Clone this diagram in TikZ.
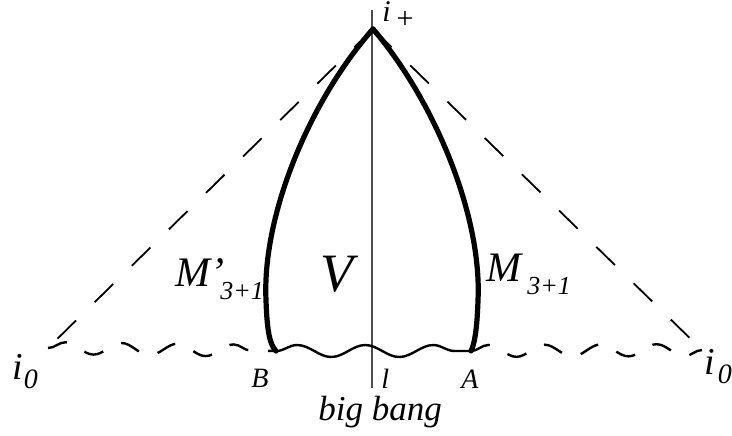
\documentclass[tikz,border=0pt]{standalone}
\usepackage{fontspec}
\setmainfont{Liberation Serif}
\usetikzlibrary{positioning,decorations.pathmorphing}

\begin{document}
\begin{tikzpicture}[
    x=0.5pt, y=-0.5pt,
    boundary/.style={line width=2.6pt, line cap=round},
    cone/.style={line width=0.9pt, dash pattern=on 13pt off 13pt},
    axis/.style={line width=0.6pt, black!70},
    bang/.style={line width=1.2pt, decorate, decoration={snake, segment length=34pt, amplitude=3pt}},
    dashbang/.style={line width=1.2pt, decorate, decoration={snake, segment length=28pt, amplitude=3pt},
        dash pattern=on 10pt off 10pt},
    lbl/.style={inner sep=0pt, anchor=base west, font=\itshape}
]
    \useasboundingbox (0,0) rectangle (732,435);

    % points of the diagram
    \coordinate (iplus) at (373,29);
    \coordinate (ileft) at (48,348);
    \coordinate (iright) at (702,350);
    \coordinate (Bpt) at (276,351);
    \coordinate (Apt) at (471,351);
    \coordinate (ltop) at (372,10);
    \coordinate (lbot) at (372,388);

    % light cone and axis
    \draw[cone] (iplus) -- (ileft);
    \draw[cone] (iplus) -- (iright);
    \draw[axis] (ltop) -- (lbot);

    % big bang surface
    \draw[dashbang] (ileft) -- (Bpt);
    \draw[bang] (Bpt) -- (Apt);
    \draw[dashbang] (Apt) -- (iright);

    % boundaries M and M'
    \draw[boundary] (iplus) .. controls (310,100) and (262,215) .. (266,300)
        .. controls (267,332) and (270,345) .. (Bpt);
    \draw[boundary] (iplus) .. controls (434,100) and (482,215) .. (478,300)
        .. controls (477,332) and (474,345) .. (Apt);

    % labels
    \node[lbl, font=\itshape\fontsize{15}{15}\selectfont] (iplab) at (382,21)
        {i\hspace{3pt}\raisebox{-3.5pt}{\upshape +}};
    \node[lbl, font=\itshape\fontsize{19}{19}\selectfont] (i0left) at (12,379)
        {i\hspace{0.5pt}\raisebox{-4.5pt}{\fontsize{14}{14}\selectfont 0}};
    \node[lbl, font=\itshape\fontsize{19}{19}\selectfont] (i0right) at (704,374)
        {i\hspace{1.5pt}\raisebox{-4.5pt}{\fontsize{14}{14}\selectfont 0}};
    \node[lbl, font=\itshape\fontsize{14}{14}\selectfont] (Blab) at (251,387) {B};
    \node[lbl, font=\itshape\fontsize{14}{14}\selectfont] (Alab) at (461,388) {A};
    \node[lbl, font=\itshape\fontsize{14}{14}\selectfont] (llab) at (381,388) {l};
    \node[lbl, font=\itshape\fontsize{17.5}{17.5}\selectfont] (bblab) at (318,420) {big bang};
    \node[lbl, font=\itshape\fontsize{27}{27}\selectfont] (Vlab) at (320,291) {V};
    \node[lbl, font=\itshape\fontsize{21}{21}\selectfont] (Mplab) at (175,286)
        {M’\hspace{-2pt}\raisebox{-6.5pt}{\fontsize{13}{13}\selectfont 3+1}};
    \node[lbl, font=\itshape\fontsize{21}{21}\selectfont] (Mlab) at (486,281)
        {M\hspace{3pt}\raisebox{-6.5pt}{\fontsize{13}{13}\selectfont 3+1}};
\end{tikzpicture}
\end{document}
